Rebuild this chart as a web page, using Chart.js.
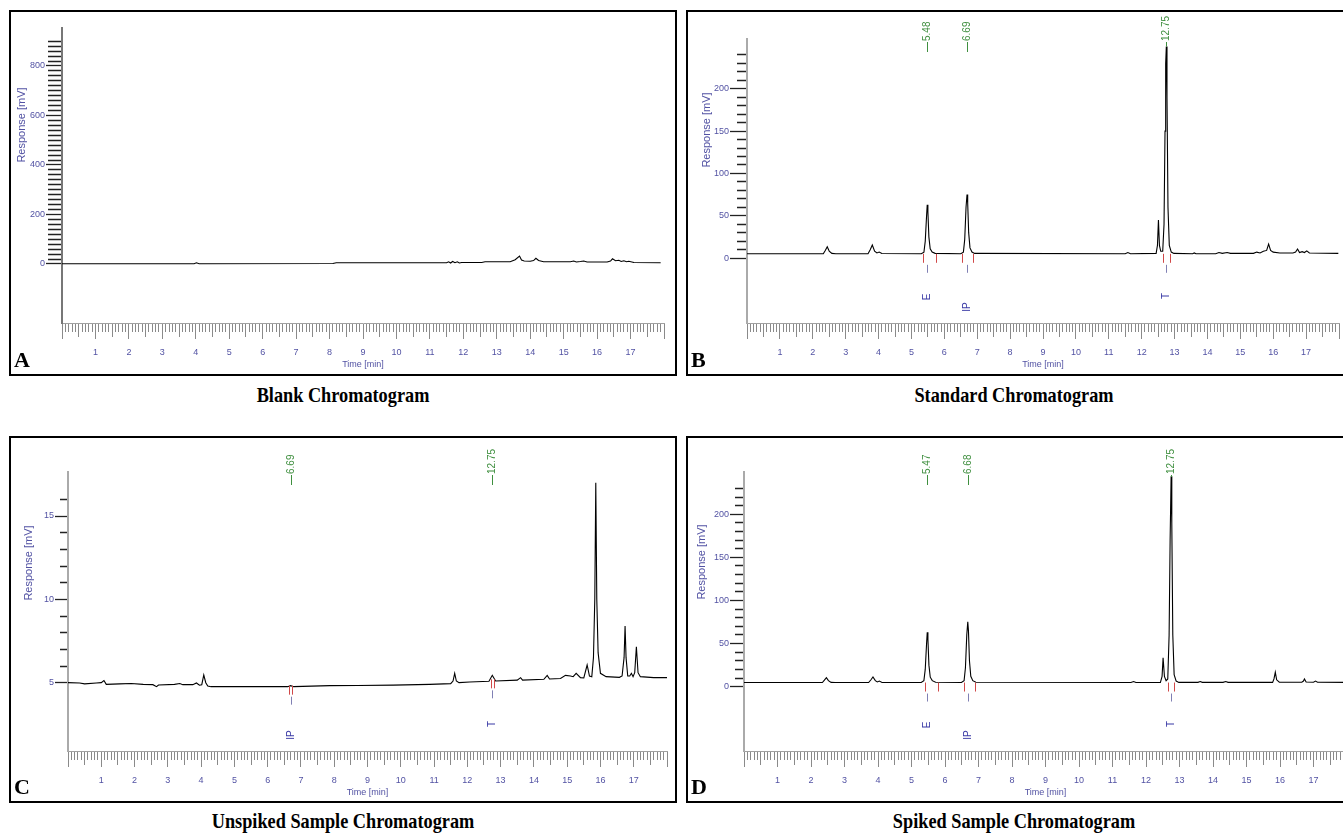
<!DOCTYPE html>
<html><head><meta charset="utf-8">
<script src="https://cdn.jsdelivr.net/npm/chart.js@4.4.1/dist/chart.umd.min.js"></script>
<style>
html,body{margin:0;padding:0;background:#fff;}
body{width:1343px;height:833px;position:relative;overflow:hidden;}
.box{position:absolute;border:2px solid #000;box-sizing:border-box;}
canvas{position:absolute;}
.letter{position:absolute;font-family:"Liberation Serif","Times New Roman",serif;font-weight:bold;font-size:22px;line-height:1;color:#000;}
.cap{position:absolute;font-family:"Liberation Serif","Times New Roman",serif;font-weight:bold;font-size:21px;line-height:1;color:#000;text-align:center;white-space:nowrap;transform:scaleX(0.87);}
.ytitle{position:absolute;font-family:"Liberation Sans",Arial,sans-serif;font-size:11px;line-height:1;color:#5252a3;white-space:nowrap;transform:translate(-50%,-50%) rotate(-90deg);}
</style></head>
<body>
<div class="box" style="left:9px;top:10px;width:668px;height:366px"></div>
<div class="box" style="left:686px;top:10px;width:700px;height:366px"></div>
<div class="box" style="left:9px;top:436px;width:668px;height:367px"></div>
<div class="box" style="left:686px;top:436px;width:700px;height:367px"></div>

<canvas id="cA" width="664" height="362" style="left:11px;top:12px"></canvas>
<canvas id="cB" width="675" height="362" style="left:688px;top:12px"></canvas>
<canvas id="cC" width="664" height="363" style="left:11px;top:438px"></canvas>
<canvas id="cD" width="675" height="363" style="left:688px;top:438px"></canvas>

<div class="ytitle" style="left:21px;top:125px">Response [mV]</div>
<div class="ytitle" style="left:706px;top:130px">Response [mV]</div>
<div class="ytitle" style="left:28px;top:563px">Response [mV]</div>
<div class="ytitle" style="left:701px;top:562px">Response [mV]</div>

<div class="letter" style="left:14px;top:349px">A</div>
<div class="letter" style="left:691px;top:349px">B</div>
<div class="letter" style="left:14px;top:776px">C</div>
<div class="letter" style="left:691px;top:776px">D</div>

<div class="cap" style="left:9px;top:385px;width:668px">Blank Chromatogram</div>
<div class="cap" style="left:686px;top:385px;width:656px">Standard Chromatogram</div>
<div class="cap" style="left:9px;top:811px;width:668px">Unspiked Sample Chromatogram</div>
<div class="cap" style="left:686px;top:811px;width:656px">Spiked Sample Chromatogram</div>

<script>
// ================= DATA =================
// Panel A - Blank chromatogram (time in min, response in mV)
const blankTime = [0,3.95,4.02,4.1,8.1,8.2,11.5,11.56,11.62,11.68,11.75,11.82,11.88,11.95,12.55,12.65,13.4,13.55,13.68,13.74,13.82,14.0,14.1,14.17,14.25,14.4,15.2,15.3,15.38,15.5,15.6,15.7,16.3,16.4,16.46,16.55,16.65,16.72,16.8,16.88,16.95,17.1,17.9];
const blankResp = [1,1,5,1,2,5,5,9,4,10,5,9,4,6,6,9,9,17,32,16,12,11,14,23,14,9,9,12,8,10,12,8,8,12,21,13,15,10,13,9,11,6,5];

// Panel B - Standard chromatogram
const stdTime = [0,2.32,2.38,2.44,2.5,2.58,2.7,3.68,3.75,3.81,3.88,3.95,4.02,4.1,5.3,5.38,5.42,5.46,5.48,5.5,5.53,5.57,5.63,5.72,6.5,6.58,6.62,6.66,6.69,6.71,6.74,6.78,6.84,6.92,11.5,11.58,11.66,12.44,12.48,12.51,12.54,12.58,12.64,12.68,12.71,12.73,12.75,12.77,12.8,12.84,12.9,12.98,13.55,13.6,13.65,14.25,14.35,14.45,14.6,14.7,15.4,15.5,15.6,15.7,15.8,15.86,15.92,16.0,16.2,16.6,16.68,16.74,16.8,16.88,16.95,17.02,17.1,17.98];
const stdResp = [5,5,9,13.4,8,5.5,5,5,10,15.4,8,6,7,5.3,5,7,20,50,63,55,25,11,7,5.5,5,7,22,60,75,65,30,12,7,5.5,5,6.5,5,5.5,15,45,15,8,8,40,150,230,250,190,60,15,7,5.5,5,6,5,5,6.5,5.5,6.5,5.5,5.5,7,6,8,9,16.5,9,7,6,6,7,10.6,6.5,7.5,6.5,8.5,6,5.5];
const stdPeakTimes = [5.48,6.69,12.75];
const stdPeakHeights = [63,75,250];
const stdPeakNames = ['E','IP','T'];
const stdPeakStarts = [5.34,6.55,12.64];
const stdPeakEnds = [5.76,6.88,12.87];
const stdPeakLevels = [5,5,5];

// Panel C - Unspiked sample chromatogram
const unspTime = [0,0.35,0.5,0.85,1.0,1.08,1.15,1.55,1.9,2.26,2.55,2.66,2.72,3.2,3.36,3.45,3.75,3.86,3.95,4.02,4.08,4.14,4.2,4.3,5.5,6.6,6.69,6.78,7.87,8.7,9.77,10.87,11.5,11.57,11.62,11.67,11.75,12.07,12.65,12.75,12.85,13.5,13.6,13.66,14.3,14.4,14.47,14.8,14.95,15.1,15.18,15.27,15.4,15.5,15.6,15.67,15.74,15.79,15.83,15.86,15.89,15.93,16.0,16.17,16.57,16.65,16.71,16.74,16.77,16.82,16.88,16.93,16.98,17.03,17.08,17.13,17.2,17.6,18.0];
const unspResp = [5.0,4.98,4.93,4.98,5.0,5.13,4.9,4.93,4.95,4.9,4.88,4.76,4.86,4.9,4.95,4.88,4.88,4.98,4.85,4.88,5.46,5.0,4.8,4.76,4.76,4.76,4.82,4.76,4.82,4.83,4.85,4.9,4.94,5.1,5.56,5.1,5.0,5.04,5.08,5.44,5.1,5.15,5.3,5.15,5.2,5.44,5.22,5.25,5.44,5.4,5.36,5.56,5.3,5.28,6.06,5.4,5.36,6.5,10.0,17.0,10.0,6.8,5.56,5.36,5.32,5.4,6.5,8.4,6.5,5.4,5.4,5.56,5.36,5.6,7.16,5.6,5.36,5.3,5.3];
const unspPeakTimes = [6.69,12.75];
const unspPeakHeights = [4.82,5.44];
const unspPeakNames = ['IP','T'];
const unspPeakStarts = [6.65,12.7];
const unspPeakEnds = [6.74,12.79];
const unspPeakLevels = [4.82,5.2];

// Panel D - Spiked sample chromatogram
const spkTime = [0,2.34,2.4,2.46,2.52,2.6,2.72,3.72,3.79,3.85,3.92,3.98,4.04,4.12,5.29,5.37,5.41,5.45,5.47,5.49,5.52,5.56,5.62,5.72,6.49,6.57,6.61,6.65,6.68,6.7,6.73,6.77,6.83,6.92,11.55,11.63,11.7,12.43,12.48,12.51,12.55,12.6,12.65,12.69,12.72,12.75,12.77,12.8,12.84,12.9,12.98,13.55,13.62,13.68,14.3,14.38,14.45,15.78,15.82,15.86,15.9,15.98,16.65,16.7,16.73,16.78,17.0,17.06,17.12,17.98];
const spkResp = [4.8,4.8,7.5,10.4,7,5,4.8,4.8,8,11.3,7,5.5,6.5,4.9,4.8,7,20,50,63,55,25,11,7,5.2,4.8,7,22,60,75.4,65,30,12,7,5.2,4.8,6,4.8,5,12,33.6,12,7,9,60,170,244,190,60,14,6.5,5,5,6,5,5,6,5,5,9,16.7,8,5.2,5.2,6.5,9,5.5,5.2,6.5,5.2,5];
const spkPeakTimes = [5.47,6.68,12.75];
const spkPeakHeights = [63,75.4,244];
const spkPeakNames = ['E','IP','T'];
const spkPeakStarts = [5.39,6.57,12.66];
const spkPeakEnds = [5.78,6.9,12.85];
const spkPeakLevels = [4.8,4.8,4.8];

// ================= STYLE =================
const FONT = '"Liberation Sans", Arial, sans-serif';
const LABEL_BLUE = '#5252a3';
const NAME_OFFSET = {E: 26, IP: 16, T: 27};

function isMult(v, m) { return Math.abs(v / m - Math.round(v / m)) < 1e-6; }

function makeChart(id, cfg) {
  const data = cfg.time.map((t, i) => ({x: t, y: cfg.resp[i]}));
  const peaksPlugin = {
    id: 'peaks',
    afterDatasetsDraw(chart) {
      const p = cfg.peaks;
      if (!p) return;
      const ctx = chart.ctx, area = chart.chartArea, xs = chart.scales.x, ys = chart.scales.y;
      ctx.save();
      ctx.lineWidth = 1;
      p.times.forEach((t, i) => {
        const px = Math.round(xs.getPixelForValue(t)) + 0.5;
        const tb = area.top + 3;
        const apex = ys.getPixelForValue(p.heights[i]);
        ctx.strokeStyle = '#3f8f3f';
        ctx.beginPath(); ctx.moveTo(px, tb); ctx.lineTo(px, Math.max(tb + 2, Math.min(tb + 10, apex))); ctx.stroke();
        ctx.save(); ctx.translate(px, tb - 1); ctx.rotate(-Math.PI / 2);
        ctx.font = '10px ' + FONT;
        ctx.fillStyle = '#3f8f3f'; ctx.textAlign = 'left'; ctx.textBaseline = 'middle';
        ctx.fillText(t.toFixed(2), 0, 0); ctx.restore();
        const base = ys.getPixelForValue(p.levels[i]);
        ctx.strokeStyle = '#d04848';
        [p.starts[i], p.ends[i]].forEach(tt => {
          const qx = Math.round(xs.getPixelForValue(tt)) + 0.5;
          ctx.beginPath(); ctx.moveTo(qx, base); ctx.lineTo(qx, base + 9); ctx.stroke();
        });
        ctx.strokeStyle = '#8080b4';
        ctx.beginPath(); ctx.moveTo(px, base + 11); ctx.lineTo(px, base + 19); ctx.stroke();
        ctx.save(); ctx.translate(px, area.bottom - NAME_OFFSET[p.names[i]]); ctx.rotate(-Math.PI / 2);
        ctx.font = '10px ' + FONT;
        ctx.fillStyle = '#3a3aa6'; ctx.textAlign = 'center'; ctx.textBaseline = 'middle';
        ctx.fillText(p.names[i], 0, 0); ctx.restore();
      });
      ctx.restore();
    }
  };
  const g = cfg.geom;
  return new Chart(document.getElementById(id), {
    type: 'line',
    data: {datasets: [{data: data, borderColor: '#000', borderWidth: 1.1, pointRadius: 0, tension: 0, fill: false}]},
    plugins: [peaksPlugin],
    options: {
      responsive: false, animation: false, devicePixelRatio: 1,
      layout: {padding: {left: 0, top: g.pT, right: g.pR, bottom: 0}},
      plugins: {legend: {display: false}, tooltip: {enabled: false}},
      scales: {
        x: {
          type: 'linear', position: 'bottom', min: 0, max: 18,
          afterFit: s => { s.height = g.xH; },
          ticks: {stepSize: 0.1, autoSkip: false, maxRotation: 0, minRotation: 0, padding: g.xPad,
            color: LABEL_BLUE, font: {family: FONT, size: 9},
            callback: v => (isMult(v, 1) && v > 0.5 && v < 17.5) ? String(Math.round(v)) : ''},
          grid: {display: true, drawOnChartArea: false, drawTicks: true, tickLength: 16, tickColor: '#8a8a8a', tickWidth: 1,
            tickBorderDash: c => isMult(c.tick.value, 1) ? [] : (isMult(c.tick.value, 0.5) ? [13, 100] : [8, 100])},
          border: {display: true, color: '#a0a0a0', width: 1},
          title: {display: true, text: 'Time [min]', color: LABEL_BLUE, font: {family: FONT, size: 9}, padding: {top: 0, bottom: g.tPad}}
        },
        y: {
          type: 'linear', position: 'left', min: g.yMin, max: g.yMax,
          afterFit: s => { s.width = g.yW; },
          afterBuildTicks: s => { s.ticks = s.ticks.filter(t => t.value >= g.tMin - 1e-9 && t.value <= g.tMax + 1e-9); },
          ticks: {stepSize: g.minor, autoSkip: false, padding: 1, color: LABEL_BLUE, font: {family: FONT, size: 9},
            callback: v => isMult(v, g.major) ? String(Math.round(v)) : ''},
          grid: {display: true, drawOnChartArea: false, drawTicks: true, tickLength: g.majLen, tickColor: '#222', tickWidth: 1.3,
            tickBorderDash: c => isMult(c.tick.value, g.major) ? [] : [0, g.majLen - g.minLen, g.minLen, 200]},
          border: {display: true, color: g.axisColor, width: 2}
        }
      }
    }
  });
}

makeChart('cA', {time: blankTime, resp: blankResp, peaks: null,
  geom: {pT: 16, pR: 11, xH: 51, yW: 51, xPad: 8, tPad: 4, yMin: -238.4, yMax: 953.5, tMin: 0, tMax: 900, minor: 20, major: 200, majLen: 16, minLen: 14, axisColor: '#777'}});
makeChart('cB', {time: stdTime, resp: stdResp,
  peaks: {times: stdPeakTimes, heights: stdPeakHeights, names: stdPeakNames, starts: stdPeakStarts, ends: stdPeakEnds, levels: stdPeakLevels},
  geom: {pT: 27, pR: 24, xH: 51, yW: 59, xPad: 8, tPad: 4, yMin: -76.8, yMax: 258.9, tMin: 0, tMax: 240, minor: 10, major: 50, majLen: 17, minLen: 10, axisColor: '#aaa'}});
makeChart('cC', {time: unspTime, resp: unspResp,
  peaks: {times: unspPeakTimes, heights: unspPeakHeights, names: unspPeakNames, starts: unspPeakStarts, ends: unspPeakEnds, levels: unspPeakLevels},
  geom: {pT: 34, pR: 8, xH: 50, yW: 57, xPad: 8, tPad: 3, yMin: 0.9, yMax: 17.64, tMin: 5, tMax: 16, minor: 1, major: 5, majLen: 13, minLen: 8, axisColor: '#aaa'}});
makeChart('cD', {time: spkTime, resp: spkResp,
  peaks: {times: spkPeakTimes, heights: spkPeakHeights, names: spkPeakNames, starts: spkPeakStarts, ends: spkPeakEnds, levels: spkPeakLevels},
  geom: {pT: 34, pR: 16, xH: 50, yW: 56, xPad: 8, tPad: 3, yMin: -74.6, yMax: 249, tMin: 0, tMax: 230, minor: 10, major: 50, majLen: 14, minLen: 9, axisColor: '#aaa'}});
</script>
</body></html>
